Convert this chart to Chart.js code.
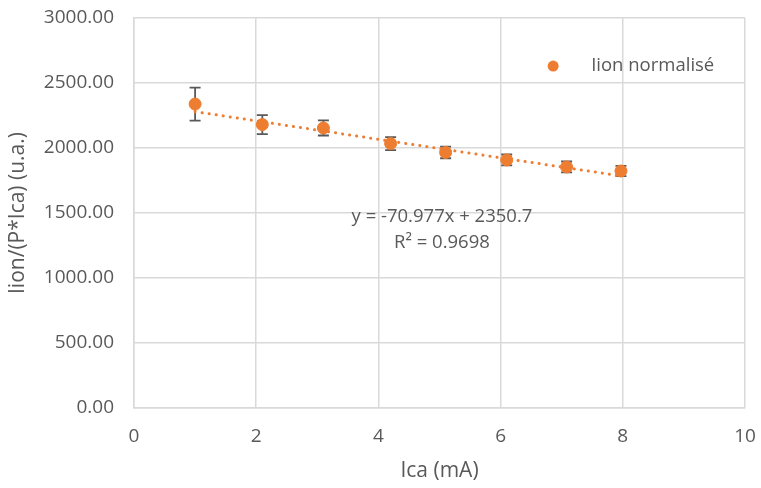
<!DOCTYPE html>
<html>
<head>
<meta charset="utf-8">
<script src="https://cdn.jsdelivr.net/npm/chart.js@4.4.1/dist/chart.umd.min.js"></script>
<style>
  html, body { margin: 0; padding: 0; background: #fff; }
  #wrap { width: 761px; height: 488px; }
</style>
</head>
<body>
<div id="wrap"><canvas id="myChart"></canvas></div>
<script>
// data
const ica = [1.0, 2.1, 3.1, 4.2, 5.1, 6.1, 7.08, 7.97]
const ionNorm = [2338, 2180, 2154, 2034, 1966, 1908, 1854, 1823]
const ionErr = [127, 73, 58, 50, 45, 42, 42, 40]
const xTicks = [0, 2, 4, 6, 8, 10]
const yTicks = [0, 500, 1000, 1500, 2000, 2500, 3000]
// trendline printed on the chart
const slope = -70.977
const intercept = 2350.7
const r2 = 0.9698

const orange = '#ED7D31'
const grey = '#595959'
const fontFam = "'Open Sans', 'Noto Sans', sans-serif"

const trendX = [Math.min(...ica), Math.max(...ica)]
const trend = trendX.map(x => ({x: x, y: slope * x + intercept}))

const errorBars = {
  id: 'errorBars',
  beforeDatasetsDraw(chart) {
    const ctx = chart.ctx
    const xs = chart.scales.x
    const ys = chart.scales.y
    ctx.save()
    ctx.strokeStyle = grey
    ctx.lineWidth = 1.8
    for (let i = 0; i < ica.length; i++) {
      const px = xs.getPixelForValue(ica[i])
      const top = ys.getPixelForValue(ionNorm[i] + ionErr[i])
      const bot = ys.getPixelForValue(ionNorm[i] - ionErr[i])
      ctx.beginPath()
      ctx.moveTo(px, top); ctx.lineTo(px, bot)
      ctx.moveTo(px - 5.5, top); ctx.lineTo(px + 5.5, top)
      ctx.moveTo(px - 5.5, bot); ctx.lineTo(px + 5.5, bot)
      ctx.stroke()
    }
    ctx.restore()
  }
}

const labels = {
  id: 'labels',
  afterDraw(chart) {
    const ctx = chart.ctx
    const xs = chart.scales.x
    const ys = chart.scales.y
    ctx.save()
    // equation
    ctx.fillStyle = grey
    ctx.font = '18.5px ' + fontFam
    ctx.textAlign = 'center'
    ctx.textBaseline = 'middle'
    const ex = xs.getPixelForValue(5.04)
    ctx.fillText('y = ' + slope + 'x + ' + intercept, ex, ys.getPixelForValue(1475))
    ctx.fillText('R² = ' + r2, ex, ys.getPixelForValue(1275))
    // legend
    const lx = xs.getPixelForValue(6.86)
    const ly = ys.getPixelForValue(2630)
    ctx.fillStyle = orange
    ctx.beginPath()
    ctx.arc(lx, ly, 5.5, 0, Math.PI * 2)
    ctx.fill()
    ctx.fillStyle = grey
    ctx.textAlign = 'left'
    ctx.fillText('Iion normalisé', lx + 38, ly)
    ctx.restore()
  }
}

new Chart(document.getElementById('myChart'), {
  type: 'scatter',
  data: {
    datasets: [
      {
        label: 'Iion normalisé',
        data: ica.map((x, i) => ({x: x, y: ionNorm[i]})),
        backgroundColor: orange,
        borderColor: orange,
        pointRadius: 6,
        pointHoverRadius: 6,
        order: 1
      },
      {
        label: 'Linéaire',
        type: 'line',
        data: trend,
        borderColor: orange,
        borderWidth: 3,
        borderDash: [0.1, 7],
        borderCapStyle: 'round',
        pointRadius: 0,
        fill: false,
        order: 2
      }
    ]
  },
  options: {
    responsive: true,
    maintainAspectRatio: false,
    animation: false,
    layout: { padding: { top: 18, right: 16, left: 0, bottom: 0 } },
    plugins: {
      legend: { display: false },
      tooltip: { enabled: false }
    },
    scales: {
      x: {
        type: 'linear',
        min: 0, max: 10,
        afterBuildTicks: s => { s.ticks = xTicks.map(v => ({value: v})) },
        afterFit: s => { s.height = 80; s.paddingLeft = 0; s.paddingRight = 0 },
        grid: { color: '#D9D9D9', lineWidth: 1.5, drawTicks: false },
        border: { color: '#D9D9D9', width: 1.5 },
        ticks: { color: grey, padding: 17, font: { family: fontFam, size: 19 } },
        title: { display: true, text: 'Ica (mA)', color: grey, padding: { top: 8 }, font: { family: fontFam, size: 21 } }
      },
      y: {
        min: 0, max: 3000,
        afterBuildTicks: s => { s.ticks = yTicks.map(v => ({value: v})) },
        afterFit: s => { s.width = 134; s.paddingTop = 0; s.paddingBottom = 0 },
        grid: { color: '#D9D9D9', lineWidth: 1.5, drawTicks: false },
        border: { color: '#D9D9D9', width: 1.5 },
        ticks: { color: grey, padding: 20, font: { family: fontFam, size: 19 }, callback: v => v.toFixed(2) },
        title: { display: true, text: 'Iion/(P*Ica) (u.a.)', color: grey, padding: { top: 5, bottom: 0 }, font: { family: fontFam, size: 21 } }
      }
    }
  },
  plugins: [errorBars, labels]
})
</script>
</body>
</html>
